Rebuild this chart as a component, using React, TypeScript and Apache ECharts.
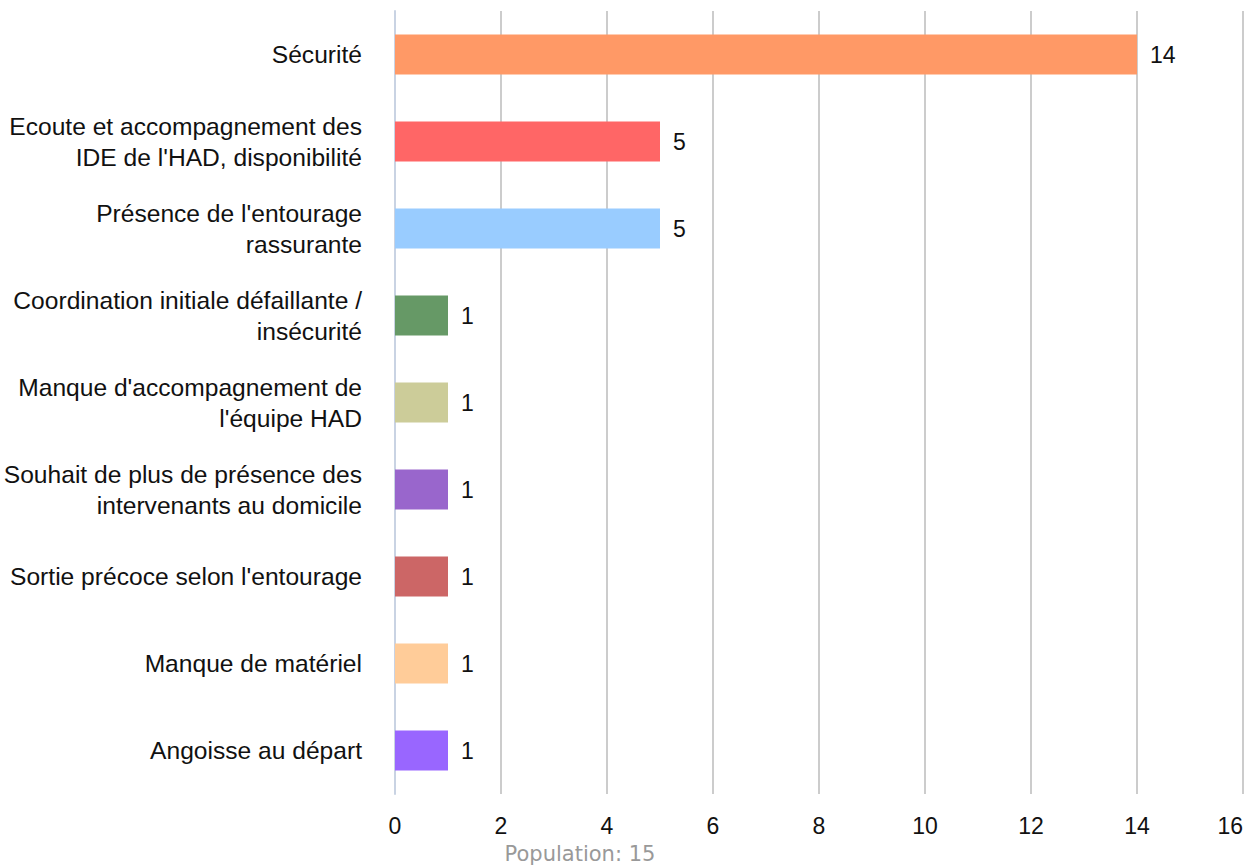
import React, { useEffect, useRef } from "react";
import * as echarts from "echarts";

const categories = [
  "Sécurité",
  "Ecoute et accompagnement des\nIDE de l'HAD, disponibilité",
  "Présence de l'entourage\nrassurante",
  "Coordination initiale défaillante /\ninsécurité",
  "Manque d'accompagnement de\nl'équipe HAD",
  "Souhait de plus de présence des\nintervenants au domicile",
  "Sortie précoce selon l'entourage",
  "Manque de matériel",
  "Angoisse au départ",
];
const values = [14, 5, 5, 1, 1, 1, 1, 1, 1];
const colors = ["#FF9966", "#FF6666", "#99CCFF", "#669966", "#CCCC99", "#9966CC", "#CC6666", "#FFCC99", "#9966FF"];
const xTicks = [0, 2, 4, 6, 8, 10, 12, 14, 16];
const footnote = "Population: 15";

const FONT = "Liberation Sans, Arial, sans-serif";

export default function App() {
  const ref = useRef<HTMLDivElement>(null);
  useEffect(() => {
    if (!ref.current) return;
    const chart = echarts.init(ref.current, undefined, { renderer: "svg" });
    chart.setOption({
      animation: false,
      backgroundColor: "#ffffff",
      grid: { left: 395, right: 15, top: 11, height: 783, containLabel: false },
      xAxis: {
        type: "value",
        min: xTicks[0],
        max: xTicks[xTicks.length - 1],
        interval: 2,
        axisLine: { show: false },
        axisTick: { show: false },
        axisLabel: {
          color: "#111",
          fontSize: 23,
          lineHeight: 22,
          fontFamily: FONT,
          margin: 21,
          alignMaxLabel: "right",
        },
        splitLine: { show: true, lineStyle: { color: "#cccccc", width: 2 } },
      },
      yAxis: {
        type: "category",
        data: categories,
        inverse: true,
        axisLine: { show: true, lineStyle: { color: "#c9d3e3", width: 2 } },
        axisTick: { show: false },
        axisLabel: {
          color: "#111",
          fontSize: 24.6,
          fontFamily: FONT,
          margin: 33,
          lineHeight: 31,
          align: "right",
        },
      },
      series: [
        {
          type: "bar",
          data: values.map((v, i) => ({ value: v, itemStyle: { color: colors[i] } })),
          barWidth: 40,
          label: {
            show: true,
            position: "right",
            distance: 13,
            color: "#111",
            fontSize: 23,
            fontFamily: FONT,
          },
        },
      ],
      graphic: [
        {
          type: "text",
          x: 580,
          y: 854,
          style: {
            text: footnote,
            fill: "#999999",
            fontSize: 21,
            lineHeight: 20,
            fontFamily: "DejaVu Sans, sans-serif",
            align: "center",
            verticalAlign: "middle",
          },
        },
      ],
    });
    return () => chart.dispose();
  }, []);
  return (
    <div
      ref={ref}
      style={{ position: "absolute", left: 0, top: 0, width: 1258, height: 867 }}
    />
  );
}
